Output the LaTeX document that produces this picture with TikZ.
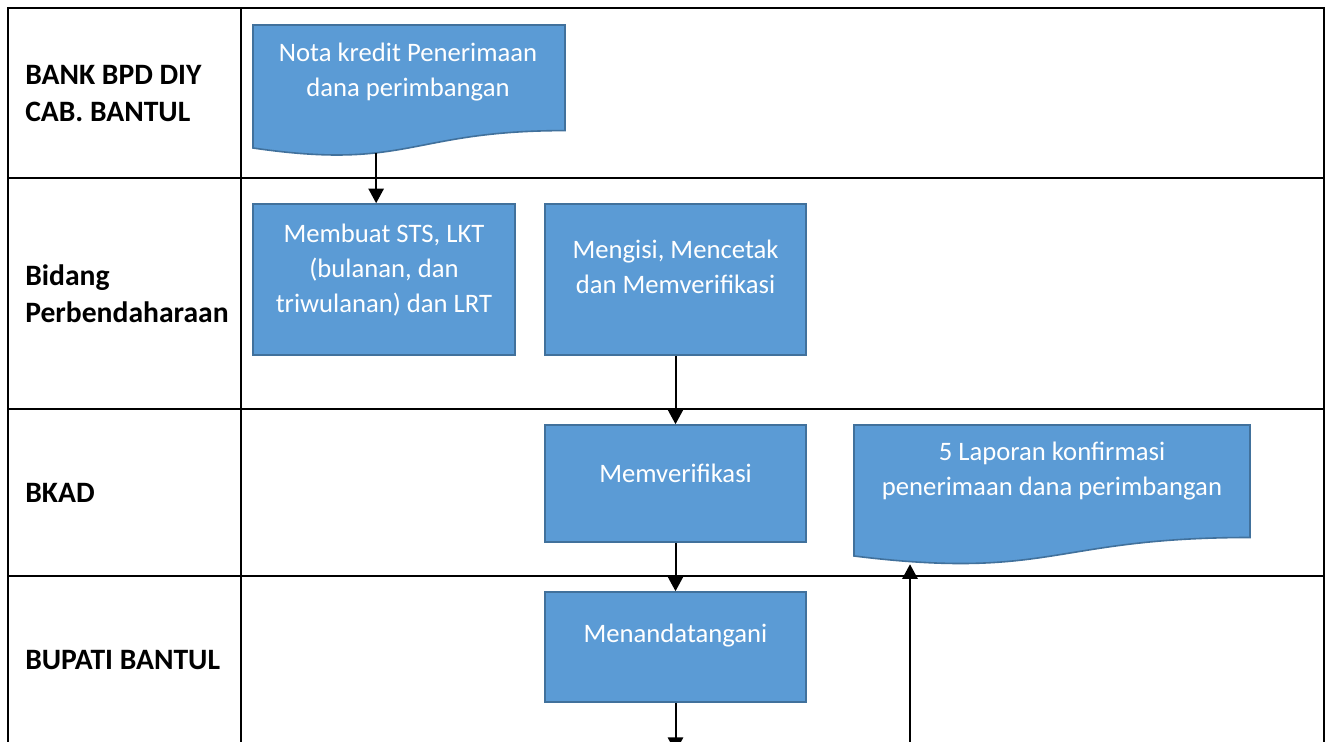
\documentclass[tikz,border=0pt]{standalone}
\usepackage{fontspec}
\setmainfont{Carlito}
\usetikzlibrary{arrows.meta}
\definecolor{boxfill}{HTML}{5B9BD5}
\definecolor{boxline}{HTML}{41719C}
\begin{document}
\begin{tikzpicture}[x=0.75pt,y=-0.75pt,
  lane/.style={line width=1.5pt, black},
  lanelabel/.style={anchor=west, align=left, inner sep=0pt,
    font=\fontsize{22.2}{27.8}\selectfont\bfseries},
  procbox/.style={draw=boxline, fill=boxfill, line width=1.2pt, inner sep=0pt},
  docshape/.style={draw=boxline, fill=boxfill, line width=1.2pt},
  boxtext/.style={text=white, align=center, inner sep=0pt,
    font=\fontsize{20}{26.25}\selectfont},
  flow/.style={line width=1.5pt, -{Triangle[length=11pt,width=11.5pt]}}
]
\useasboundingbox (0,0) rectangle (1325,742);
\clip (0,0) rectangle (1325,742);
\fill[white] (0,0) rectangle (1325,742);

% swimlane grid
\draw[lane] (8,760) -- (8,8) -- (1323.5,8) -- (1323.5,760);
\draw[lane] (241,8) -- (241,760);
\foreach \y in {178,409,576} \draw[lane] (8,\y) -- (1323.5,\y);

% lane titles
\node[lanelabel] (l1) at (25,93.5) {BANK BPD DIY\\CAB. BANTUL};
\node[lanelabel] (l2) at (25,293.5) {Bidang\\Perbendaharaan};
\node[lanelabel] (l3) at (25,492.5) {BKAD};
\node[lanelabel] (l4) at (25,660) {BUPATI BANTUL};

% document: nota kredit
\filldraw[docshape] (253,25) -- (565,25) -- (565,130.6)
  .. controls (409,130.6) and (409,170.8) .. (253,148) coordinate[pos=0.637] (d1b)
  -- cycle;
\node[boxtext] (d1) at (408,72) {Nota kredit Penerimaan\\dana perimbangan};

% document: laporan konfirmasi
\filldraw[docshape] (854,425) -- (1250,425) -- (1250,537.5)
  .. controls (1052,537.5) and (1052,580.4) .. (854,556) coordinate[pos=0.895] (d2b)
  -- cycle;
\node[boxtext] (d2) at (1052,471.5) {5 Laporan konfirmasi\\penerimaan dana perimbangan};

% process boxes
\node[procbox, minimum width=196.5pt, minimum height=113.25pt] (b1) at (384,279.5) {};
\node[boxtext] (t1) at (384,270) {Membuat STS, LKT\\(bulanan, dan\\triwulanan) dan LRT};

\node[procbox, minimum width=195.75pt, minimum height=113.25pt] (b2) at (675.5,279.5) {};
\node[boxtext] (t2) at (675.5,267) {Mengisi, Mencetak\\dan Memverifikasi};

\node[procbox, minimum width=195.75pt, minimum height=87.75pt] (b3) at (675.5,483.5) {};
\node[boxtext] (t3) at (675.5,473) {Memverifikasi};

\node[procbox, minimum width=195.75pt, minimum height=82.5pt] (b4) at (675.5,647) {};
\node[boxtext] (t4) at (675.5,636) {Menandatangani};

% connectors
\coordinate (outdown) at (675.5,752);
\coordinate (inup) at (910,760);
\draw[flow] (d1b) -- (d1b |- b1.north);
\draw[flow] (b2.south) -- (b3.north);
\draw[flow] (b3.south) -- (b4.north);
\draw[flow] (b4.south) -- (outdown);
\draw[flow, shorten >=2pt] (inup) -- (inup |- d2b);
\end{tikzpicture}
\end{document}
